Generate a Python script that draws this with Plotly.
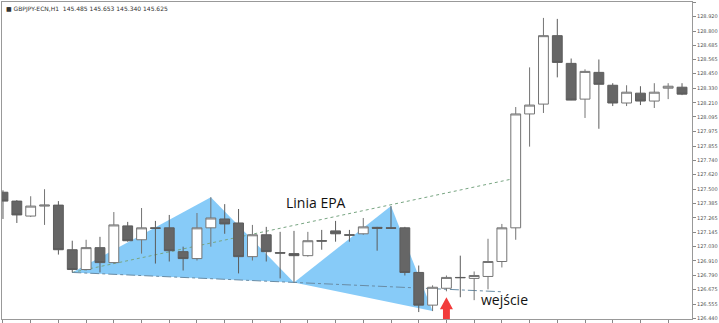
import plotly.graph_objects as go

# ---- data ----
idx = list(range(50))
opens = [127.475, 127.402, 127.279, 127.361, 127.369, 127.002, 126.839, 127.019, 126.896, 127.198,
         127.084, 127.182, 127.182, 126.986, 126.929, 127.182, 127.255, 127.222, 126.945, 127.125,
         126.978, 126.970, 126.953, 127.076, 127.157, 127.125, 127.133, 127.186, 127.182, 127.182,
         126.815, 126.546, 126.685, 126.774, 126.766, 126.782, 126.905, 127.182, 128.119, 128.200,
         128.763, 128.535, 128.241, 128.461, 128.355, 128.209, 128.290, 128.225, 128.331, 128.339]
highs = [127.491, 127.410, 127.442, 127.500, 127.402, 127.076, 127.084, 127.108, 127.312, 127.231,
         127.345, 127.239, 127.288, 127.027, 127.304, 127.434, 127.377, 127.337, 127.206, 127.190,
         127.149, 127.157, 127.149, 127.165, 127.239, 127.165, 127.263, 127.190, 127.361, 127.190,
         126.872, 126.709, 126.790, 126.953, 126.823, 127.092, 127.214, 128.176, 128.502, 128.909,
         128.901, 128.575, 128.486, 128.567, 128.372, 128.355, 128.347, 128.372, 128.372, 128.372]
lows = [127.255, 127.222, 127.271, 127.206, 126.962, 126.815, 126.831, 126.815, 126.888, 127.068,
        126.970, 126.888, 126.905, 126.831, 126.913, 127.027, 127.133, 126.807, 126.913, 126.905,
        126.766, 126.733, 126.945, 127.002, 127.068, 127.068, 127.125, 126.994, 127.174, 126.790,
        126.489, 126.497, 126.660, 126.611, 126.587, 126.676, 126.856, 127.084, 127.850, 128.127,
        128.420, 128.241, 128.086, 127.997, 128.184, 128.184, 128.192, 128.168, 128.241, 128.274]
closes = [127.402, 127.288, 127.361, 127.369, 127.002, 126.839, 127.019, 126.896, 127.206, 127.076,
          127.182, 127.178, 126.994, 126.929, 127.182, 127.263, 127.214, 126.945, 127.125, 126.986,
          126.974, 126.953, 127.076, 127.073, 127.133, 127.122, 127.190, 127.178, 127.179, 126.815,
          126.546, 126.693, 126.774, 126.772, 126.790, 126.905, 127.182, 128.119, 128.192, 128.763,
          128.543, 128.233, 128.469, 128.363, 128.209, 128.298, 128.225, 128.298, 128.347, 128.282]

# harmonic pattern points X, A, B, C, D
pattern_idx = [5, 15, 21, 28, 31]
pattern_price = [126.815, 127.434, 126.733, 127.361, 126.497]

# EPA line (dotted) and X-B extension (dash-dot)
epa_idx = [5, 36.62]
epa_price = [126.815, 127.581]
xb_idx = [5, 36]
xb_price = [126.815, 126.656]

y_tick_labels = ["126.440", "126.555", "126.675", "126.790", "126.910", "127.030", "127.145",
                 "127.265", "127.385", "127.500", "127.620", "127.740", "127.855", "127.975",
                 "128.095", "128.210", "128.330", "128.450", "128.565", "128.685", "128.800",
                 "128.920", "129.040"]
y_tick_vals = [float(s) for s in y_tick_labels]

# entry arrow
arrow_idx = 32
arrow_tip = 126.611
arrow_neck = 126.513
arrow_base = 126.432

fig = go.Figure()
fig.add_trace(go.Candlestick(
    x=idx, open=opens, high=highs, low=lows, close=closes,
    increasing=dict(line=dict(color="#747474", width=1), fillcolor="#ffffff"),
    decreasing=dict(line=dict(color="#5c5c5c", width=1), fillcolor="#666666"),
    whiskerwidth=0, hoverinfo="skip", showlegend=False,
))

shapes = []
X, A, B, C, D = list(zip(pattern_idx, pattern_price))
for tri in [(X, A, B), (B, C, D)]:
    path = "M {},{} L {},{} L {},{} Z".format(tri[0][0], tri[0][1], tri[1][0], tri[1][1], tri[2][0], tri[2][1])
    shapes.append(dict(type="path", path=path, xref="x", yref="y", layer="below",
                       fillcolor="rgb(135,203,248)", line=dict(width=0)))
shapes.append(dict(type="line", x0=epa_idx[0], y0=epa_price[0], x1=epa_idx[1], y1=epa_price[1],
                   xref="x", yref="y", layer="below", line=dict(color="rgb(120,165,130)", width=1, dash="dot")))
shapes.append(dict(type="line", x0=xb_idx[0], y0=xb_price[0], x1=xb_idx[1], y1=xb_price[1],
                   xref="x", yref="y", layer="below", line=dict(color="rgb(105,140,165)", width=1, dash="dashdot")))
hw, sw = 0.47, 0.25
arrow_path = ("M {a},{t} L {r},{n} L {rs},{n} L {rs},{b} L {ls},{b} L {ls},{n} L {l},{n} Z").format(
    a=arrow_idx, t=arrow_tip, n=arrow_neck, b=arrow_base,
    r=arrow_idx + hw, l=arrow_idx - hw, rs=arrow_idx + sw, ls=arrow_idx - sw)
shapes.append(dict(type="path", path=arrow_path, xref="x", yref="y", layer="above",
                   fillcolor="#f23c3c", line=dict(width=0)))

annotations = [
    dict(x=22.6, y=127.394, xref="x", yref="y", text="Linia EPA", showarrow=False,
         font=dict(family="Open Sans", size=14, color="#111111")),
    dict(x=36.2, y=126.595, xref="x", yref="y", text="wejście", showarrow=False,
         font=dict(family="Open Sans", size=14, color="#111111")),
    dict(x=0.0, y=1.0, xref="paper", yref="paper", xanchor="left", yanchor="top",
         xshift=2, yshift=-1,
         text="■ GBPJPY-ECN,H1  145.485 145.653 145.340 145.625", showarrow=False,
         font=dict(family="DejaVu Sans", size=6, color="#333333")),
]

fig.update_layout(
    width=719, height=323,
    margin=dict(l=1, r=22, t=1, b=2),
    paper_bgcolor="white", plot_bgcolor="white",
    boxgap=0.29, boxgroupgap=0,
    shapes=shapes, annotations=annotations, showlegend=False,
    xaxis=dict(range=[-0.07, 49.72], rangeslider=dict(visible=False), showgrid=False, zeroline=False,
               tickvals=list(range(0, 50, 2)), showticklabels=False, ticks="outside", ticklen=3,
               tickcolor="#888888", showline=True, linecolor="#999999", mirror=True, linewidth=1),
    yaxis=dict(range=[126.432, 129.040], side="right", showgrid=False, zeroline=False,
               tickvals=y_tick_vals, ticktext=y_tick_labels, ticks="outside", ticklen=3,
               tickcolor="#888888", tickfont=dict(family="DejaVu Sans", size=5, color="#555555"),
               showline=True, linecolor="#999999", mirror=True, linewidth=1),
)

fig.write_html("out.html")
